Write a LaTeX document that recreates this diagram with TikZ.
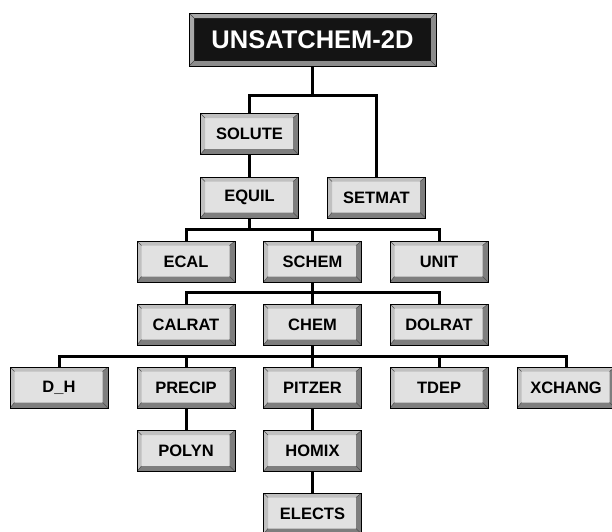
\documentclass[tikz,border=0pt]{standalone}
\usepackage{fontspec}
\setmainfont{Liberation Sans}
\definecolor{face}{HTML}{E1E1E1}
\definecolor{bevlight}{HTML}{C0C0C0}
\definecolor{bevdark}{HTML}{7E7E7E}
\definecolor{topface}{HTML}{141414}
\definecolor{toplight}{HTML}{A8A8A8}
\definecolor{topdark}{HTML}{8C8C8C}
\tikzset{
  conn/.style={line width=3pt, black},
  bevel/.style n args={4}{path picture={
    \path (path picture bounding box.north west) coordinate (bnw)
          (path picture bounding box.north east) coordinate (bne)
          (path picture bounding box.south west) coordinate (bsw)
          (path picture bounding box.south east) coordinate (bse);
    \coordinate (inw) at ([shift={(#3,-#3)}]bnw);
    \coordinate (ine) at ([shift={(-#4,-#3)}]bne);
    \coordinate (isw) at ([shift={(#3,#4)}]bsw);
    \coordinate (ise) at ([shift={(-#4,#4)}]bse);
    \fill[#1] (bnw) -- (bne) -- (ine) -- (inw) -- cycle;
    \fill[#1] (bnw) -- (bsw) -- (isw) -- (inw) -- cycle;
    \fill[#2] (bne) -- (bse) -- (ise) -- (ine) -- cycle;
    \fill[#2] (bsw) -- (bse) -- (ise) -- (isw) -- cycle;
    \draw[line width=0.5pt, black!70] (bnw) -- (inw) (bne) -- (ine) (bsw) -- (isw) (bse) -- (ise);
  }},
  btn/.style={rectangle, minimum width=98pt, minimum height=41pt, inner sep=0pt, outer sep=0pt,
    draw=black, line width=0.9pt, fill=face, text=black,
    font=\fontsize{16.5}{19}\selectfont\bfseries, bevel={bevlight}{bevdark}{4.5pt}{5.5pt}},
  topbtn/.style={rectangle, minimum width=247pt, minimum height=53pt, inner sep=0pt, outer sep=0pt,
    draw=black, line width=0.9pt, fill=topface, text=white,
    font=\fontsize{25.5}{30}\selectfont\bfseries, bevel={toplight}{topdark}{5pt}{5pt}},
}
\begin{document}
\begin{tikzpicture}[x=1pt, y=-1pt]
\useasboundingbox (0,0) rectangle (612,531);
\fill[white] (0,0) rectangle (612,531);
\clip (0,0) rectangle (612,531);
% nodes
\node[topbtn] (top) at (312.5,39.5) {UNSATCHEM-2D};
\node[btn] (solute) at (249.5,134) {SOLUTE};
\node[btn] (equil) at (249.5,197.5) {EQUIL};
\node[btn] (setmat) at (376.5,197.5) {SETMAT};
\node[btn] (ecal) at (186,261.5) {ECAL};
\node[btn] (schem) at (312.5,261.5) {SCHEM};
\node[btn] (unit) at (439,261.5) {UNIT};
\node[btn] (calrat) at (186,324.5) {CALRAT};
\node[btn] (chem) at (312.5,324.5) {CHEM};
\node[btn] (dolrat) at (439,324.5) {DOLRAT};
\node[btn] (dh) at (59,387.5) {D\_H};
\node[btn] (precip) at (186,387.5) {PRECIP};
\node[btn] (pitzer) at (312.5,387.5) {PITZER};
\node[btn] (tdep) at (439,387.5) {TDEP};
\node[btn] (xchang) at (566,387.5) {XCHANG};
\node[btn] (polyn) at (186,451) {POLYN};
\node[btn] (homix) at (312.5,451) {HOMIX};
\node[btn] (elects) at (312.5,513.5) {ELECTS};
% junctions
\coordinate (j1) at (312.5,95);
\coordinate (j2) at (249.5,229);
\coordinate (j3) at (312.5,292);
\coordinate (j4) at (312.5,356);
% connectors
\draw[conn] (top.south) -- (j1);
\draw[conn] (solute.north) |- (j1) -| (setmat.north);
\draw[conn] (solute.south) -- (equil.north);
\draw[conn] (equil.south) -- (j2);
\draw[conn] (ecal.north) |- (j2) -| (unit.north);
\draw[conn] (schem.north) -- (schem.north |- j2);
\draw[conn] (schem.south) -- (j3);
\draw[conn] (calrat.north) |- (j3) -| (dolrat.north);
\draw[conn] (chem.north) -- (chem.north |- j3);
\draw[conn] (chem.south) -- (j4);
\draw[conn] (dh.north) |- (j4) -| (xchang.north);
\draw[conn] (precip.north) -- (precip.north |- j4);
\draw[conn] (pitzer.north) -- (pitzer.north |- j4);
\draw[conn] (tdep.north) -- (tdep.north |- j4);
\draw[conn] (precip.south) -- (polyn.north);
\draw[conn] (pitzer.south) -- (homix.north);
\draw[conn] (homix.south) -- (elects.north);
\end{tikzpicture}
\end{document}
